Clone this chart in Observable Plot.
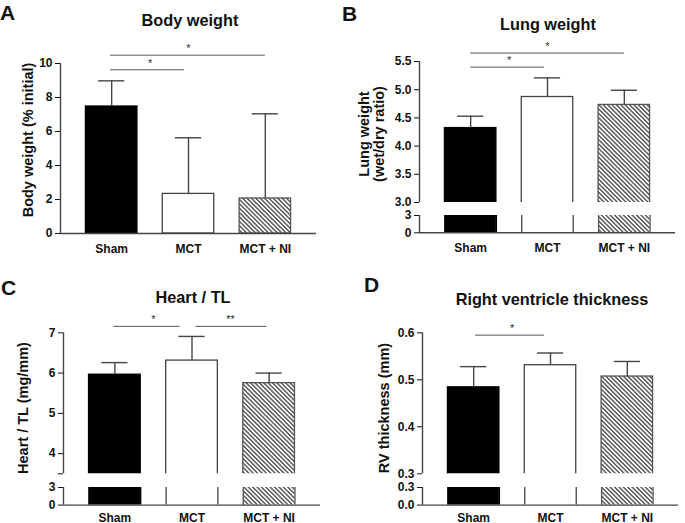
<!DOCTYPE html>
<html><head><meta charset="utf-8">
<script src="https://cdn.jsdelivr.net/npm/d3@7"></script>
<script src="https://cdn.jsdelivr.net/npm/@observablehq/plot@0.6"></script>
<style>
body{margin:0;background:#fff;}
#root{position:relative;width:685px;height:523px;overflow:hidden;font-family:"Liberation Sans",Arial,sans-serif;background:#fff;}
#root svg{position:absolute;overflow:visible;}
.abs{position:absolute;white-space:nowrap;font-weight:bold;color:#111;}
.letter{font-size:21px;line-height:1;}
.title{font-size:16.3px;transform:translate(-50%,-50%);}
.ylab{font-size:14.5px;transform:translate(-50%,-50%) rotate(-90deg);text-align:center;line-height:1.0;}
</style></head><body><div id="root"></div>
<script>
// ---- data ----
const groups = ["Sham", "MCT", "MCT + NI"];

const bodyWeight    = [7.47, 2.33, 2.06];
const bodyWeightErr = [8.98, 5.63, 7.04];
const bodyWeightSig = [
  {from: "Sham", to: "MCT", label: "*", level: 9.63},
  {from: "Sham", to: "MCT + NI", label: "*", level: 10.49}
];

const lungWeight    = [4.32, 4.87, 4.73];
const lungWeightErr = [4.53, 5.21, 4.99];
const lungWeightSig = [
  {from: "Sham", to: "MCT", label: "*", level: 5.40},
  {from: "Sham", to: "MCT + NI", label: "*", level: 5.65}
];

const heartTL    = [5.96, 6.31, 5.75];
const heartTLErr = [6.26, 6.91, 6.00];
const heartTLSig = [
  {from: "Sham", to: "MCT", label: "*", level: 7.16},
  {from: "MCT", to: "MCT + NI", label: "**", level: 7.16}
];

const rvThickness    = [0.484, 0.531, 0.507];
const rvThicknessErr = [0.528, 0.557, 0.539];
const rvThicknessSig = [
  {from: "Sham", to: "MCT", label: "*", level: 0.595}
];

const ticksA = [0, 2, 4, 6, 8, 10];
const ticksBUpper = [3.0, 3.5, 4.0, 4.5, 5.0, 5.5];
const ticksBLower = [0, 3];
const ticksCUpper = [3.5, 4, 5, 6, 7];
const ticksCLower = [0, 3];
const ticksDUpper = [0.3, 0.4, 0.5, 0.6];
const ticksDLower = [0.0, 0.3];

// ---- styles ----
const xDomain = [-0.666, 2.666];
const barHalf = 0.335, capHalf = 0.17;
const barStyles = [
  {fill: "#000", stroke: "#000"},
  {fill: "#fff", stroke: "#444"},
  {fill: "hatch", stroke: "#555"}
];
const root = document.getElementById("root");
const idx = g => groups.indexOf(g);

function addHatch(svg, id) {
  const defs = d3.select(svg).insert("defs", ":first-child");
  const p = defs.append("pattern").attr("id", id).attr("patternUnits", "userSpaceOnUse")
    .attr("width", 3.1).attr("height", 3.1).attr("patternTransform", "rotate(-45)");
  p.append("rect").attr("width", 3.1).attr("height", 3.1).attr("fill", "#fff");
  p.append("line").attr("x1", 0.8).attr("y1", 0).attr("x2", 0.8).attr("y2", 3.1)
    .attr("stroke", "#3a3a3a").attr("stroke-width", 1.25);
}

function segment(o) {
  const hatchId = "hatch-" + o.id;
  const [lo, hi] = o.domain;
  const pad = (hi - lo) * 0.2;
  const rows = groups.map((g, i) => ({g, i, v: o.values[i], e: o.errs ? o.errs[i] : null}));
  const marks = [];
  rows.forEach((r, k) => {
    const s = barStyles[k];
    const fill = s.fill === "hatch" ? `url(#${hatchId})` : s.fill;
    if (o.role === "lower") {
      marks.push(Plot.rectY([r], {x1: d => d.i - barHalf, x2: d => d.i + barHalf,
        y1: lo, y2: hi, fill}));
      marks.push(Plot.ruleX([r.i - barHalf, r.i + barHalf], {y1: lo, y2: hi, stroke: s.stroke, strokeWidth: 1.3}));
    } else {
      marks.push(Plot.rectY([r], {
        x1: d => d.i - barHalf, x2: d => d.i + barHalf,
        y1: o.role === "upper" ? lo - pad : lo,
        y2: "v",
        fill, stroke: s.stroke, strokeWidth: 1.3,
        clip: o.role === "upper"
      }));
    }
  });
  marks.push(Plot.ruleX([xDomain[0]], {stroke: "#444", strokeWidth: 1.4}));
  if (o.role !== "upper") marks.push(Plot.ruleY([lo], {stroke: "#444", strokeWidth: 1.4}));
  if (o.role !== "lower") {
    marks.push(Plot.ruleX(rows, {x: "i", y1: "v", y2: "e", stroke: "#444", strokeWidth: 1.4}));
    marks.push(Plot.ruleY(rows, {y: "e", x1: d => d.i - capHalf, x2: d => d.i + capHalf, stroke: "#444", strokeWidth: 1.4}));
    o.sig.forEach((s, k) => {
      const [il, ir] = o.sigInsets[k];
      marks.push(Plot.ruleY([s], {y: "level", x1: d => idx(d.from), x2: d => idx(d.to),
        insetLeft: il, insetRight: ir, stroke: "#555", strokeWidth: 1}));
      marks.push(Plot.text([s], {x: d => (idx(d.from) + idx(d.to)) / 2, y: "level", text: "label",
        dy: -3, lineAnchor: "bottom", fontSize: 11, fontWeight: "normal", fill: "#333"}));
    });
  }
  const showX = o.role !== "upper";
  const svg = Plot.plot({
    width: o.width, height: o.height,
    marginLeft: o.marginLeft, marginRight: o.marginRight,
    marginTop: o.marginTop, marginBottom: o.marginBottom,
    x: {domain: xDomain, axis: showX ? "bottom" : null, ticks: [0, 1, 2],
        tickFormat: i => groups[i], tickSize: 0, tickPadding: o.xPad || 8, label: null},
    y: {domain: o.domain, ticks: o.ticks, tickFormat: o.tickFormat, tickSize: 5, tickPadding: 3, label: null},
    style: {fontFamily: '"Liberation Sans", Arial, sans-serif', fontSize: "12px", fontWeight: "bold",
            color: "#111", background: "transparent", overflow: "visible"},
    marks
  });
  addHatch(svg, hatchId);
  svg.style.left = o.left + "px";
  svg.style.top = o.top + "px";
  root.appendChild(svg);
}

function html(cls, text, left, top) {
  const d = document.createElement("div");
  d.className = "abs " + cls;
  d.innerHTML = text;
  d.style.left = left + "px";
  d.style.top = top + "px";
  root.appendChild(d);
}

const fmt1 = d3.format(".1f");
const fmtInt = d => Number.isInteger(d) ? String(d) : "";

// Panel A
segment({id: "A", role: "full", left: 0, top: 40, width: 340, height: 225,
  marginLeft: 60, marginRight: 24, marginTop: 23, marginBottom: 32, xPad: 11,
  domain: [0, 10], ticks: ticksA, tickFormat: d => String(d),
  values: bodyWeight, errs: bodyWeightErr, sig: bodyWeightSig, sigInsets: [[-1, 4], [-1, 0]]});

// Panel B
segment({id: "Bu", role: "upper", left: 340, top: 40, width: 345, height: 168,
  marginLeft: 79, marginRight: 10, marginTop: 21, marginBottom: 6,
  domain: [3, 5.5], ticks: ticksBUpper, tickFormat: fmt1,
  values: lungWeight, errs: lungWeightErr, sig: lungWeightSig, sigInsets: [[0, 3], [0, 0]]});
segment({id: "Bl", role: "lower", left: 340, top: 209, width: 345, height: 51,
  marginLeft: 79, marginRight: 10, marginTop: 6, marginBottom: 27.7, xPad: 11,
  domain: [0, 3], ticks: ticksBLower, tickFormat: d => String(d),
  values: lungWeight});

// Panel C
segment({id: "Cu", role: "upper", left: 0, top: 300, width: 340, height: 179.3,
  marginLeft: 63, marginRight: 20, marginTop: 32.3, marginBottom: 6,
  domain: [3.5, 7], ticks: ticksCUpper, tickFormat: fmtInt,
  values: heartTL, errs: heartTLErr, sig: heartTLSig, sigInsets: [[-1, 12], [4, 2]]});
segment({id: "Cl", role: "lower", left: 0, top: 480.7, width: 340, height: 42.3,
  marginLeft: 63, marginRight: 20, marginTop: 6, marginBottom: 18.7,
  domain: [0, 3], ticks: ticksCLower, tickFormat: d => String(d),
  values: heartTL});

// Panel D
segment({id: "Du", role: "upper", left: 340, top: 300, width: 345, height: 179.3,
  marginLeft: 82, marginRight: 7, marginTop: 32.3, marginBottom: 6,
  domain: [0.3, 0.6], ticks: ticksDUpper, tickFormat: fmt1,
  values: rvThickness, errs: rvThicknessErr, sig: rvThicknessSig, sigInsets: [[2, 6]]});
segment({id: "Dl", role: "lower", left: 340, top: 480.7, width: 345, height: 42.3,
  marginLeft: 82, marginRight: 7, marginTop: 6, marginBottom: 18.7,
  domain: [0, 0.3], ticks: ticksDLower, tickFormat: fmt1,
  values: rvThickness});

// Texts
html("letter", "A", 0, 2);
html("letter", "B", 342, 3);
html("letter", "C", 1, 277);
html("letter", "D", 364, 274);
html("title", "Body weight", 190, 20);
html("title", "Lung weight", 548, 24);
html("title", "Heart / TL", 193, 297);
html("title", "Right ventricle thickness", 552, 299);
html("ylab", "Body weight (% initial)", 28, 140);
html("ylab", "Lung weight<br>(wet/dry ratio)", 371, 134);
html("ylab", "Heart / TL (mg/mm)", 23, 408);
html("ylab", "RV thickness (mm)", 384, 408);
</script></body></html>
